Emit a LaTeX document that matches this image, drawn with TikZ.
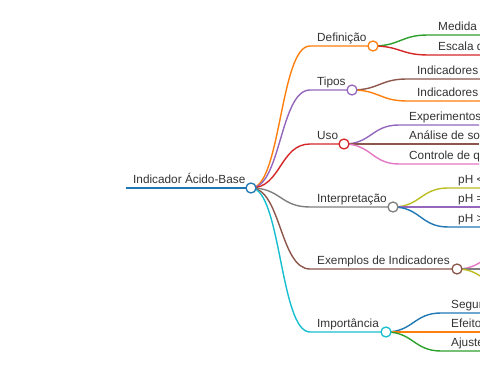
\documentclass[tikz,border=0pt]{standalone}
\usepackage{fontspec}
\setmainfont{Liberation Sans}
\usepackage{tikz}
\usetikzlibrary{positioning, backgrounds}
\definecolor{tabblue}{HTML}{1F77B4}
\definecolor{taborange}{HTML}{FF7F0E}
\definecolor{tabgreen}{HTML}{2CA02C}
\definecolor{tabred}{HTML}{D62728}
\definecolor{tabpurple}{HTML}{9467BD}
\definecolor{tabbrown}{HTML}{8C564B}
\definecolor{tabpink}{HTML}{E377C2}
\definecolor{tabgray}{HTML}{7F7F7F}
\definecolor{tabolive}{HTML}{BCBD22}
\definecolor{tabcyan}{HTML}{17BECF}
\definecolor{labeltext}{HTML}{333333}

\begin{document}
\begin{tikzpicture}[x=1pt, y=-1pt,
  dot/.style={circle, draw=#1, fill=white, line width=1.3pt, minimum size=10pt, inner sep=0pt},
  branch/.style={line width=1.4pt, #1},
  lbl/.style={anchor=base west, inner sep=0pt, font=\fontsize{11.8}{14}\selectfont, text=labeltext},
]
  \useasboundingbox (0,0) rectangle (480,379);

  % Root
  \coordinate (rootstart) at (126,188);
  \node[dot=tabblue] (root) at (251,188) {};
  \node[lbl] (troot) at ([shift={(7,-4.5)}]rootstart) {Indicador Ácido-Base};

  % Main topics
  \node[dot=taborange] (def) at (373,46)  {};
  \node[dot=tabpurple] (tip) at (352,90)  {};
  \node[dot=tabred]    (uso) at (344,144) {};
  \node[dot=tabgray]   (int) at (393,207) {};
  \node[dot=tabbrown]  (exe) at (457,269) {};
  \node[dot=tabcyan]   (imp) at (386,332) {};

  \foreach \n/\y/\t in {def/46/Definição, tip/90/Tipos, uso/144/Uso,
                        int/207/Interpretação, exe/269/Exemplos de Indicadores,
                        imp/332/Importância} {
    \coordinate (\n bend) at (310,\y);
    \node[lbl] (t\n) at ([shift={(7,-4.5)}]\n bend) {\t};
  }

  % Sub-topics
  \foreach \p/\n/\dy in {def/med/-11, def/esc/9, tip/nat/-11, tip/sin/11,
                         uso/exp/-19, uso/ana/0, uso/ctl/20,
                         int/aci/-19, int/neu/0, int/bas/20,
                         exe/exa/-19, exe/exb/0, exe/exc/20,
                         imp/seg/-19, imp/efe/0, imp/aju/19}
    \path (\p.center) ++(55,\dy) coordinate (\n);

  \foreach \n/\t in {med/Medida, esc/Escala d, nat/Indicadores, sin/Indicadores,
                     exp/Experimentos, ana/Análise de so, ctl/Controle de q,
                     aci/pH <, neu/pH =, bas/pH >,
                     seg/Segur, efe/Efeito, aju/Ajuste}
    \node[lbl] (t\n) at ([shift={(10,-4.5)}]\n) {\t};

  % Connectors
  \begin{scope}[on background layer]
    \draw[branch=tabblue] (rootstart) -- (root.center);
    \foreach \n/\c in {def/taborange, tip/tabpurple, uso/tabred,
                       int/tabgray, exe/tabbrown, imp/tabcyan}
      \draw[branch=\c] (root.center) .. controls +(30,0) and +(-30,0) .. (\n bend) -- (\n.center);
    \foreach \p/\n/\c in {def/med/tabgreen, def/esc/tabred, tip/nat/tabbrown, tip/sin/taborange,
                          uso/exp/tabpurple, uso/ana/tabbrown, uso/ctl/tabpink,
                          int/aci/tabolive, int/neu/tabpurple, int/bas/tabblue,
                          exe/exa/tabpink, exe/exb/tabgray, exe/exc/tabolive,
                          imp/seg/tabblue, imp/efe/taborange, imp/aju/tabgreen}
      \draw[branch=\c] (\p.center) .. controls +(27,0) and +(-27,0) .. (\n) -- ++(80,0);
  \end{scope}
\end{tikzpicture}
\end{document}
